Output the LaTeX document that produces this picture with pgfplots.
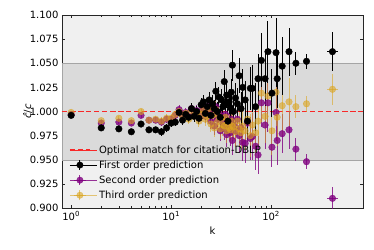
\documentclass[border=0pt]{standalone}
\usepackage{fontspec}
\setmainfont{DejaVu Sans}
\usepackage{pgfplots}
\pgfplotsset{compat=1.18}
\usepackage{pgfplotstable}
\definecolor{bgout}{RGB}{240,240,240}
\definecolor{bgin}{RGB}{218,218,218}
\definecolor{bandedge}{RGB}{165,165,165}
\definecolor{pur}{RGB}{128,0,128}
\definecolor{gold}{RGB}{218,165,32}
\definecolor{dashred}{RGB}{248,40,40}
\pgfplotsset{
  errleg/.style={legend image code/.code={
    \draw[##1, line width=1pt] (4pt,0pt) -- (16pt,0pt);
    \draw[##1, line width=1pt] (10pt,-5pt) -- (10pt,5pt);
    \fill[##1] (10pt,0pt) circle (3.2pt);
    \path (0pt,0pt) -- (27pt,0pt);}},
}

\pgfplotstableread{
k v e xp xm
1 0.996 0.002 0 0
2 0.983 0.002 0 0
3 0.982 0.002 0 0
4 0.979 0.002 0 0
5 0.987 0.003 0 0
6 0.981 0.003 0 0
7 0.981 0.003 0 0
8 0.979 0.004 0 0
9 0.983 0.004 0 0
10 0.988 0.004 0 0
11 0.989 0.004 0 0
12 0.999 0.005 0 0
13 0.991 0.005 0 0
14 0.997 0.005 0 0
15 0.994 0.005 0 0
16 1.003 0.006 0 0
17 0.995 0.006 0 0
18 1.000 0.006 0 0
19 0.993 0.006 0 0
20 1.007 0.007 0 0
21 1.010 0.007 0 0
22 0.998 0.007 0 0
23 1.005 0.008 0 0
24 1.012 0.008 0 0
25 0.996 0.008 0 0
26 1.008 0.009 0 0
27 1.003 0.009 0 0
28 1.021 0.010 0 0
29 1.000 0.010 0 0
30 1.015 0.010 0 0
31 0.994 0.011 0 0
32 1.012 0.011 0 0
33 1.005 0.011 0 0
34 1.031 0.012 0 0
35 1.008 0.012 0 0
36 1.017 0.013 0 0
37 0.990 0.013 0 0
38 1.010 0.013 0 0
39 1.004 0.014 0 0
40 1.020 0.014 0 0
41 1.048 0.016 0 0
42 1.000 0.015 0 0
44 1.014 0.016 0 0
46 1.008 0.016 0 0
48 1.037 0.018 0 0
50 1.003 0.017 0 0
52 1.025 0.019 0 0
55 1.012 0.020 0 0
58 0.990 0.020 0 0
62 1.024 0.022 0 0
65 1.024 0.024 0 0
70 1.005 0.025 0 0
74 1.034 0.026 0 0
80 1.053 0.028 0 0
87 1.034 0.028 0 0
93 1.062 0.032 0 0
102 1.019 0.025 0 0
112 1.061 0.036 0 0
115 1.034 0.030 0 0
129 1.047 0.030 0 0
151 1.062 0.025 0 0
177 1.050 0.012 0 0
226 1.052 0.008 0 0
411 1.062 0.020 60 52
}\tabblack

\pgfplotstableread{
k v e xp xm
1 0.997 0.002 0 0
2 0.988 0.002 0 0
3 0.989 0.002 0 0
4 0.988 0.002 0 0
5 0.996 0.003 0 0
6 0.991 0.003 0 0
7 0.991 0.003 0 0
8 0.989 0.004 0 0
9 0.992 0.004 0 0
10 0.992 0.004 0 0
11 0.996 0.004 0 0
12 1.002 0.005 0 0
13 0.997 0.005 0 0
14 0.999 0.005 0 0
15 0.995 0.005 0 0
16 1.003 0.006 0 0
17 0.998 0.006 0 0
18 1.001 0.006 0 0
19 0.993 0.006 0 0
20 1.000 0.007 0 0
21 1.004 0.007 0 0
22 0.995 0.007 0 0
23 0.998 0.008 0 0
24 1.006 0.008 0 0
25 0.990 0.008 0 0
26 0.999 0.009 0 0
27 0.985 0.009 0 0
28 1.005 0.010 0 0
29 0.992 0.010 0 0
30 0.998 0.010 0 0
31 0.980 0.011 0 0
32 0.995 0.011 0 0
33 0.988 0.011 0 0
34 0.982 0.012 0 0
35 0.997 0.012 0 0
36 0.976 0.013 0 0
37 0.990 0.013 0 0
38 0.984 0.013 0 0
39 0.978 0.014 0 0
40 0.992 0.014 0 0
41 0.970 0.015 0 0
42 0.986 0.015 0 0
44 0.980 0.016 0 0
46 0.992 0.016 0 0
48 0.975 0.018 0 0
50 0.983 0.017 0 0
52 0.968 0.019 0 0
55 0.967 0.020 0 0
58 0.988 0.020 0 0
62 0.972 0.022 0 0
65 0.974 0.024 0 0
70 0.964 0.025 0 0
74 0.955 0.020 0 0
80 1.009 0.025 0 0
87 0.986 0.025 0 0
93 1.009 0.030 0 0
102 0.963 0.020 0 0
112 0.999 0.030 0 0
115 0.970 0.025 0 0
129 0.977 0.020 0 0
151 0.981 0.020 0 0
177 0.961 0.012 0 0
226 0.948 0.008 0 0
411 0.910 0.012 60 52
}\tabpur

\pgfplotstableread{
k v e xp xm
1 0.999 0.002 0 0
2 0.9905 0.002 0 0
3 0.993 0.002 0 0
4 0.9905 0.002 0 0
5 1.000 0.003 0 0
6 0.991 0.003 0 0
7 0.992 0.003 0 0
8 0.990 0.004 0 0
9 0.993 0.004 0 0
10 0.993 0.004 0 0
11 0.997 0.004 0 0
12 1.000 0.005 0 0
13 0.995 0.005 0 0
14 0.998 0.005 0 0
15 0.992 0.005 0 0
16 1.001 0.006 0 0
17 0.995 0.006 0 0
18 0.999 0.006 0 0
19 0.990 0.006 0 0
20 0.997 0.007 0 0
21 1.001 0.007 0 0
22 0.992 0.007 0 0
23 0.995 0.008 0 0
24 1.003 0.008 0 0
25 0.987 0.008 0 0
26 0.996 0.009 0 0
27 0.983 0.009 0 0
28 1.002 0.010 0 0
29 0.989 0.010 0 0
30 0.995 0.010 0 0
31 0.982 0.011 0 0
32 0.993 0.011 0 0
33 0.986 0.011 0 0
34 0.985 0.012 0 0
35 0.994 0.012 0 0
36 0.980 0.013 0 0
37 0.988 0.013 0 0
38 0.983 0.013 0 0
39 0.981 0.014 0 0
40 0.990 0.014 0 0
41 0.985 0.015 0 0
42 0.984 0.015 0 0
44 0.979 0.016 0 0
46 0.990 0.016 0 0
48 0.982 0.018 0 0
50 0.978 0.017 0 0
52 0.985 0.019 0 0
55 0.980 0.020 0 0
58 0.992 0.020 0 0
62 0.975 0.022 0 0
65 0.986 0.024 0 0
70 0.978 0.025 0 0
74 0.990 0.026 0 0
80 1.019 0.030 0 0
87 0.995 0.028 0 0
93 1.016 0.030 0 0
102 0.980 0.025 0 0
112 1.020 0.035 0 0
115 0.994 0.030 0 0
129 1.006 0.030 0 0
151 1.010 0.025 0 0
177 1.005 0.012 0 0
226 1.008 0.008 0 0
411 1.023 0.016 60 52
}\tabgold

\begin{document}
\begin{tikzpicture}
\begin{axis}[
  scale only axis, width=301pt, height=193pt,
  xmode=log, xmin=0.81, xmax=830, ymin=0.9, ymax=1.1,
  axis background/.style={fill=bgout},
  axis line style={line width=0.8pt, black!85},
  tick align=inside, major tick length=3.5pt, minor tick length=2pt,
  tick style={black!85, line width=0.6pt},
  xtick={1,10,100},
  xticklabels={10\textsuperscript{0},10\textsuperscript{1},10\textsuperscript{2}},
  ytick={0.9,0.925,0.95,0.975,1,1.025,1.05,1.075,1.1},
  minor y tick num=0,
  yticklabel style={/pgf/number format/.cd, fixed, fixed zerofill, precision=3, assume math mode=true},
  tick label style={font=\fontsize{10}{12}\selectfont},
  label style={font=\fontsize{10}{12}\selectfont},
  xlabel={k}, ylabel={\textit{\^c}/\textit{c}},
  ylabel style={yshift=-9pt},
  legend style={draw=none, fill=none, at={(0.0,0.0)}, anchor=south west,
    xshift=4pt, yshift=4pt,
    font=\fontsize{10}{12}\selectfont, row sep=2pt},
  legend cell align=left,
]
\addplot[forget plot, fill=bgin, draw=bandedge, line width=0.5pt, mark=none] coordinates {(0.81,0.95) (830,0.95) (830,1.05) (0.81,1.05)} -- cycle;
\draw[color=dashred, line width=1.4pt, solid]
  (rel axis cs:0,0.5) -- ++(5.5pt,0pt)
  (rel axis cs:0.02658,0.5) -- ++(5.5pt,0pt)
  (rel axis cs:0.05316,0.5) -- ++(5.5pt,0pt)
  (rel axis cs:0.07973,0.5) -- ++(5.5pt,0pt)
  (rel axis cs:0.10631,0.5) -- ++(5.5pt,0pt)
  (rel axis cs:0.13289,0.5) -- ++(5.5pt,0pt)
  (rel axis cs:0.15947,0.5) -- ++(5.5pt,0pt)
  (rel axis cs:0.18605,0.5) -- ++(5.5pt,0pt)
  (rel axis cs:0.21262,0.5) -- ++(5.5pt,0pt)
  (rel axis cs:0.23920,0.5) -- ++(5.5pt,0pt)
  (rel axis cs:0.26578,0.5) -- ++(5.5pt,0pt)
  (rel axis cs:0.29236,0.5) -- ++(5.5pt,0pt)
  (rel axis cs:0.31894,0.5) -- ++(5.5pt,0pt)
  (rel axis cs:0.34551,0.5) -- ++(5.5pt,0pt)
  (rel axis cs:0.37209,0.5) -- ++(5.5pt,0pt)
  (rel axis cs:0.39867,0.5) -- ++(5.5pt,0pt)
  (rel axis cs:0.42525,0.5) -- ++(5.5pt,0pt)
  (rel axis cs:0.45183,0.5) -- ++(5.5pt,0pt)
  (rel axis cs:0.47841,0.5) -- ++(5.5pt,0pt)
  (rel axis cs:0.50498,0.5) -- ++(5.5pt,0pt)
  (rel axis cs:0.53156,0.5) -- ++(5.5pt,0pt)
  (rel axis cs:0.55814,0.5) -- ++(5.5pt,0pt)
  (rel axis cs:0.58472,0.5) -- ++(5.5pt,0pt)
  (rel axis cs:0.61130,0.5) -- ++(5.5pt,0pt)
  (rel axis cs:0.63787,0.5) -- ++(5.5pt,0pt)
  (rel axis cs:0.66445,0.5) -- ++(5.5pt,0pt)
  (rel axis cs:0.69103,0.5) -- ++(5.5pt,0pt)
  (rel axis cs:0.71761,0.5) -- ++(5.5pt,0pt)
  (rel axis cs:0.74419,0.5) -- ++(5.5pt,0pt)
  (rel axis cs:0.77076,0.5) -- ++(5.5pt,0pt)
  (rel axis cs:0.79734,0.5) -- ++(5.5pt,0pt)
  (rel axis cs:0.82392,0.5) -- ++(5.5pt,0pt)
  (rel axis cs:0.85050,0.5) -- ++(5.5pt,0pt)
  (rel axis cs:0.87708,0.5) -- ++(5.5pt,0pt)
  (rel axis cs:0.90365,0.5) -- ++(5.5pt,0pt)
  (rel axis cs:0.93023,0.5) -- ++(5.5pt,0pt)
  (rel axis cs:0.95681,0.5) -- ++(5.5pt,0pt)
  (rel axis cs:0.98339,0.5) -- ++(5pt,0pt);

\addplot[forget plot, only marks, mark=*, mark size=3.3pt, color=pur, opacity=0.8,
  error bars/.cd, y dir=both, y explicit, x dir=both, x explicit, error mark=none,
  error bar style={line width=1pt, opacity=0.8}]
  table[x=k, y=v, y error=e, x error plus=xp, x error minus=xm] {\tabpur};
\addplot[forget plot, only marks, mark=*, mark size=3.3pt, color=gold, opacity=0.6,
  error bars/.cd, y dir=both, y explicit, x dir=both, x explicit, error mark=none,
  error bar style={line width=1pt, opacity=0.6}]
  table[x=k, y=v, y error=e, x error plus=xp, x error minus=xm] {\tabgold};
\addplot[forget plot, only marks, mark=*, mark size=3.3pt, color=black,
  error bars/.cd, y dir=both, y explicit, x dir=both, x explicit, error mark=none,
  error bar style={line width=1pt}]
  table[x=k, y=v, y error=e, x error plus=xp, x error minus=xm] {\tabblack};

\addlegendimage{color=dashred,
  legend image code/.code={
    \draw[color=dashred, line width=1.4pt, solid] (0pt,0pt) -- (5.5pt,0pt) (8pt,0pt) -- (13.5pt,0pt) (16pt,0pt) -- (20pt,0pt);
    \path (0pt,0pt) -- (27pt,0pt);}}
\addlegendentry{Optimal match for citation-DBLP}
\addlegendimage{color=black, errleg}
\addlegendentry{First order prediction}
\addlegendimage{color=pur, opacity=0.8, errleg}
\addlegendentry{Second order prediction}
\addlegendimage{color=gold, opacity=0.6, errleg}
\addlegendentry{Third order prediction}
\end{axis}
\pgfresetboundingbox
\path (current axis.south west) ++(-62pt,-41pt) rectangle ++(374pt,249pt);
\end{tikzpicture}
\end{document}
